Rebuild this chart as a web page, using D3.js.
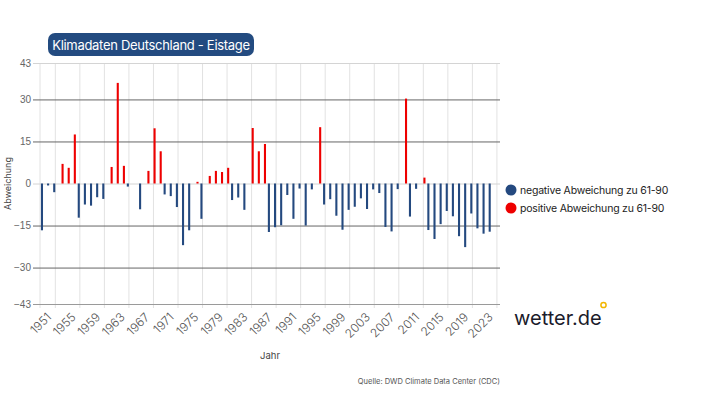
<!DOCTYPE html>
<html>
<head>
<meta charset="utf-8">
<script src="https://cdn.jsdelivr.net/npm/d3@7"></script>
<style>
  body { margin: 0; background: #fff; }
  svg { display: block; font-family: Inter, "Noto Sans", sans-serif; }
</style>
</head>
<body>
<figure id="chart" style="margin:0"></figure>
<script>
// categories: years (2025 slot is empty in the source chart)
var years = d3.range(1951, 2026);

// Abweichung der Eistage zu 1961-1990
var abweichung = [
  -16.7, -0.7, -3.1, 7.0, 5.6, 17.5, -12.2, -7.5, -7.9, -4.9,   // 1951-1960
  -5.5, 5.9, 35.9, 6.3, -1.1, 0, -9.2, 4.5, 19.7, 11.5,         // 1961-1970
  -3.9, -4.5, -8.4, -22.0, -16.7, 0.6, -12.6, 2.7, 4.5, 4.1,    // 1971-1980
  5.6, -5.9, -5.0, -9.4, 19.8, 11.5, 14.1, -17.3, -15.6, -14.9, // 1981-1990
  -4.1, -12.6, -1.8, -15.0, -2.1, 20.1, -7.5, -5.6, -11.5, -16.5, // 1991-2000
  -9.4, -8.3, -5.3, -9.1, -2.1, -3.4, -15.5, -17.1, -2.0, 30.3, // 2001-2010
  -11.8, -1.9, 2.1, -16.6, -19.8, -14.5, -9.8, -11.7, -18.8, -22.7, // 2011-2020
  -10.7, -16.0, -17.9, -17.2, null                              // 2021-2025
];

var yTicks = [43, 30, 15, 0, -15, -30, -43];
var xTickYears = d3.range(1951, 2026, 4);
var gridYears = d3.range(1953, 2026, 4);

var seriesNames = ["negative Abweichung zu 61-90", "positive Abweichung zu 61-90"];
var colors = { neg: "#24497f", pos: "#ee0000" };

var dimensions = {
  width: 717,
  height: 403,
  plot: { left: 40, right: 500, top: 63, bottom: 304 }
};

var svg = d3.select("figure#chart")
  .append("svg")
  .attr("width", dimensions.width)
  .attr("height", dimensions.height);

var xScale = d3.scaleBand()
  .domain(years)
  .range([dimensions.plot.left, dimensions.plot.right]);

// two slots per year, like a grouped column chart
var xSub = d3.scaleBand()
  .domain(["neg", "pos"])
  .range([xScale.bandwidth() * 0.15, xScale.bandwidth() * 0.85])
  .paddingInner(0.05);

var yScale = d3.scaleLinear()
  .domain([-43, 43])
  .range([dimensions.plot.bottom, dimensions.plot.top]);

var center = d => xScale(d) + xScale.bandwidth() / 2;

// vertical grid
var vGrid = svg.append("g").attr("class", "vgrid");
vGrid.append("line")
  .attr("x1", dimensions.plot.left).attr("x2", dimensions.plot.left)
  .attr("y1", dimensions.plot.top).attr("y2", dimensions.plot.bottom + 4)
  .attr("stroke", "#e2e2e2");
vGrid.selectAll("line.g")
  .data(gridYears)
  .enter()
  .append("line")
  .attr("class", "g")
  .attr("x1", d => center(d)).attr("x2", d => center(d))
  .attr("y1", dimensions.plot.top).attr("y2", dimensions.plot.bottom + 4)
  .attr("stroke", "#e2e2e2");

// y axis + horizontal grid
var yAxis = svg.append("g")
  .attr("class", "y axis")
  .attr("transform", `translate(${dimensions.plot.left},0)`)
  .call(d3.axisLeft(yScale)
    .tickValues(yTicks)
    .tickSize(-(dimensions.plot.right - dimensions.plot.left))
    .tickSizeOuter(0)
    .tickPadding(9));
yAxis.select(".domain").remove();
yAxis.selectAll(".tick line")
  .attr("x1", -7)
  .attr("stroke", d => (d === 43 || d === 0) ? "#d4d4d4" : (d === -43 ? "#9a9a9a" : "#666"))
  .attr("stroke-width", 1);
yAxis.selectAll(".tick text")
  .attr("fill", "#666")
  .style("font-size", "10px");

// bars
var bars = svg.append("g").attr("class", "bars");
bars.selectAll("rect")
  .data(years.map((y, i) => ({ year: y, value: abweichung[i] })).filter(d => d.value !== null && d.value !== 0))
  .enter()
  .append("rect")
  .attr("x", d => xScale(d.year) + xSub(d.value < 0 ? "neg" : "pos"))
  .attr("width", xSub.bandwidth())
  .attr("y", d => yScale(Math.max(0, d.value)))
  .attr("height", d => Math.abs(yScale(d.value) - yScale(0)))
  .attr("fill", d => d.value < 0 ? colors.neg : colors.pos);

// x axis labels
var xAxis = svg.append("g").attr("class", "x axis");
xAxis.selectAll("text")
  .data(xTickYears)
  .enter()
  .append("text")
  .attr("transform", d => `translate(${center(d) + 3},${dimensions.plot.bottom + 8}) rotate(-45)`)
  .attr("text-anchor", "end")
  .attr("dy", "0.7em")
  .attr("fill", "#555")
  .style("font-size", "12px")
  .style("font-weight", "300")
  .text(d => d);

// axis titles
svg.append("text")
  .attr("x", 270).attr("y", 359)
  .attr("text-anchor", "middle")
  .attr("fill", "#444")
  .style("font-size", "9.5px")
  .text("Jahr");

svg.append("text")
  .attr("transform", `translate(11,${yScale(0)}) rotate(-90)`)
  .attr("text-anchor", "middle")
  .attr("fill", "#444")
  .style("font-size", "9px")
  .text("Abweichung");

// title badge
var title = svg.append("g").attr("class", "title");
title.append("rect")
  .attr("x", 48).attr("y", 33)
  .attr("width", 206).attr("height", 23)
  .attr("rx", 7)
  .attr("fill", "#234b80");
title.append("text")
  .attr("x", 151).attr("y", 49.5)
  .attr("text-anchor", "middle")
  .attr("fill", "#fff")
  .style("font-size", "13px")
  .style("letter-spacing", "-0.3px")
  .text("Klimadaten Deutschland - Eistage");

// legend
var legend = svg.append("g").attr("class", "legend");
var legendItems = legend.selectAll("g")
  .data([{ name: seriesNames[0], color: colors.neg }, { name: seriesNames[1], color: colors.pos }])
  .enter()
  .append("g")
  .attr("transform", (d, i) => `translate(511,${190 + i * 18})`);
legendItems.append("circle")
  .attr("r", 5.5)
  .attr("fill", d => d.color);
legendItems.append("text")
  .attr("x", 9).attr("dy", "0.35em")
  .attr("fill", "#222")
  .style("font-size", "10.5px")
  .style("letter-spacing", "-0.2px")
  .text(d => d.name);

// source
svg.append("text")
  .attr("x", 500).attr("y", 384)
  .attr("text-anchor", "end")
  .attr("fill", "#555")
  .style("font-size", "7.5px")
  .text("Quelle: DWD Climate Data Center (CDC)");

// logo
svg.append("text")
  .attr("x", 514).attr("y", 324.5)
  .attr("fill", "#1b1b2b")
  .style("font-size", "20px")
  .style("font-weight", "400")
  .text("wetter.de");
svg.append("circle")
  .attr("cx", 603.5).attr("cy", 305)
  .attr("r", 2.6)
  .attr("fill", "none")
  .attr("stroke", "#f2b600")
  .attr("stroke-width", 1.5);
</script>
</body>
</html>
